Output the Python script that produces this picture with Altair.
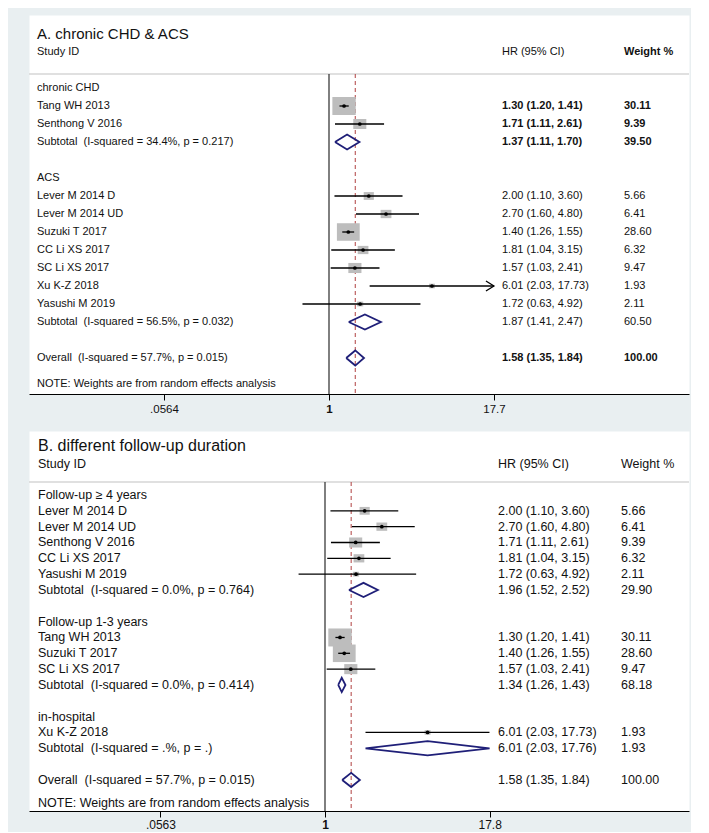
import math
import altair as alt
import pandas as pd

FONT = "Liberation Sans"
TXT = "#111111"
NB = "\u00a0"  # keeps the double space after "Subtotal"/"Overall" in SVG text

# ---------------- Panel A data ----------------
a_title = "A. chronic CHD & ACS"
a_rows = [0, 1, 2, 3, 5, 6, 7, 8, 9, 10, 11, 12, 13, 15]
a_labels = ["chronic CHD", "Tang WH 2013", "Senthong V 2016",
            "Subtotal  (I-squared = 34.4%, p = 0.217)", "ACS",
            "Lever M 2014 D", "Lever M 2014 UD", "Suzuki T 2017",
            "CC Li XS 2017", "SC Li XS 2017", "Xu K-Z 2018", "Yasushi M 2019",
            "Subtotal  (I-squared = 56.5%, p = 0.032)",
            "Overall  (I-squared = 57.7%, p = 0.015)"]
a_kind = ["group", "study", "study", "sub", "group", "study", "study", "study",
          "study", "study", "study", "study", "sub", "overall"]
a_hr = [None, 1.30, 1.71, 1.37, None, 2.00, 2.70, 1.40, 1.81, 1.57, 6.01, 1.72, 1.87, 1.58]
a_lo = [None, 1.20, 1.11, 1.11, None, 1.10, 1.60, 1.26, 1.04, 1.03, 2.03, 0.63, 1.41, 1.35]
a_hi = [None, 1.41, 2.61, 1.70, None, 3.60, 4.80, 1.55, 3.15, 2.41, 17.73, 4.92, 2.47, 1.84]
a_wt = [None, 30.11, 9.39, 39.50, None, 5.66, 6.41, 28.60, 6.32, 9.47, 1.93, 2.11, 60.50, 100.00]
a_bold = [False, True, True, True, False, False, False, False, False, False,
          False, False, False, True]
a_ticks = [0.0564, 1, 17.7]
a_tick_labels = [".0564", "1", "17.7"]

# ---------------- Panel B data ----------------
b_title = "B. different follow-up duration"
b_rows = [0, 1, 2, 3, 4, 5, 6, 8, 9, 10, 11, 12, 14, 15, 16, 18]
b_labels = ["Follow-up \u2265 4 years", "Lever M 2014 D", "Lever M 2014 UD",
            "Senthong V 2016", "CC Li XS 2017", "Yasushi M 2019",
            "Subtotal  (I-squared = 0.0%, p = 0.764)", "Follow-up 1-3 years",
            "Tang WH 2013", "Suzuki T 2017", "SC Li XS 2017",
            "Subtotal  (I-squared = 0.0%, p = 0.414)", "in-hospital",
            "Xu K-Z 2018", "Subtotal  (I-squared = .%, p = .)",
            "Overall  (I-squared = 57.7%, p = 0.015)"]
b_kind = ["group", "study", "study", "study", "study", "study", "sub", "group",
          "study", "study", "study", "sub", "group", "study", "sub", "overall"]
b_hr = [None, 2.00, 2.70, 1.71, 1.81, 1.72, 1.96, None, 1.30, 1.40, 1.57, 1.34, None, 6.01, 6.01, 1.58]
b_lo = [None, 1.10, 1.60, 1.11, 1.04, 0.63, 1.52, None, 1.20, 1.26, 1.03, 1.26, None, 2.03, 2.03, 1.35]
b_hi = [None, 3.60, 4.80, 2.61, 3.15, 4.92, 2.52, None, 1.41, 1.55, 2.41, 1.43, None, 17.73, 17.76, 1.84]
b_wt = [None, 5.66, 6.41, 9.39, 6.32, 2.11, 29.90, None, 30.11, 28.60, 9.47, 68.18, None, 1.93, 1.93, 100.00]
b_bold = [False] * len(b_rows)
b_ticks = [0.0563, 1, 17.8]
b_tick_labels = [".0563", "1", "17.8"]

headers = ["Study ID", "HR (95% CI)", "Weight %"]
note = "NOTE: Weights are from random effects analysis"

BOX_PATH = "M-1.3,-1L1.3,-1L1.3,1L-1.3,1Z"
ARROW_PATH = "M-1.6,-1L0,0L-1.6,1"


def panel(cfg):
    W, H = cfg["W"], cfg["H"]
    df = pd.DataFrame({
        "row": cfg["rows"], "label": [s.replace("  ", " " + NB) for s in cfg["labels"]],
        "kind": cfg["kind"],
        "hr": cfg["hr"], "lo": cfg["lo"], "hi": cfg["hi"], "wt": cfg["wt"],
        "bold": cfg["bold"],
    })
    xmax = max(cfg["ticks"])
    num = df[df["kind"] != "group"].copy()
    num["hr_txt"] = [f"{h:.2f} ({l:.2f}, {u:.2f})" for h, l, u in zip(num.hr, num.lo, num.hi)]
    num["wt_txt"] = [f"{w:.2f}" for w in num.wt]
    studies = num[num["kind"] == "study"].copy()
    studies["hi_c"] = studies["hi"].clip(upper=xmax)
    arrows = studies[studies["hi"] > xmax].copy()
    arrows["x"] = arrows["hi_c"]

    dia = []
    h = cfg["dh"]
    for i, r in num[num["kind"] != "study"].reset_index(drop=True).iterrows():
        pts = [(r.lo, r.row), (r.hr, r.row - h), (r.hi, r.row), (r.hr, r.row + h), (r.lo, r.row)]
        for k, (x, y) in enumerate(pts):
            dia.append({"id": i, "o": k, "x": x, "y": y})
    dia = pd.DataFrame(dia)
    overall = float(num[num["kind"] == "overall"]["hr"].iloc[0])

    xs = alt.Scale(type="log", domain=cfg["xdom"], nice=False)
    ys = alt.Scale(domain=cfg["ydom"], reverse=True, nice=False, zero=False)
    labmap = " : ".join(f"datum.value == {t} ? '{l}'" for t, l in zip(cfg["ticks"], cfg["tick_labels"]))
    ax = alt.Axis(values=cfg["ticks"], labelExpr=labmap + " : ''", title=None, grid=False,
                  domainColor="black", domainWidth=1, tickColor="black", tickSize=6,
                  tickWidth=1, labelColor=TXT, labelFont=FONT,
                  labelFontSize=cfg["tfs"], labelPadding=cfg["lp"], labelFlush=False,
                  labelOverlap=False, minExtent=20, maxExtent=20,
                  labelFontWeight={"condition": {"test": "datum.value == 1", "value": "bold"},
                                   "value": "normal"})

    def X(f):
        return alt.X(f, scale=xs, axis=ax)

    Y = alt.Y("row:Q", scale=ys, axis=None)

    sep = alt.Chart(pd.DataFrame({"a": [0]})).mark_rule(color="#d6d6d6", strokeWidth=1.5).encode(
        x=alt.value(0), x2=alt.value(W), y=alt.value(cfg["sep"]))
    vline = alt.Chart(pd.DataFrame({"x": [1]})).mark_rule(color="#2b2b2b", strokeWidth=1.2).encode(
        x=X("x:Q"), y=alt.value(cfg["sep"]), y2=alt.value(H))
    rline = alt.Chart(pd.DataFrame({"x": [overall]})).mark_rule(
        color="#b04040", strokeWidth=1, strokeDash=[4, 3]).encode(
        x=X("x:Q"), y=alt.value(cfg["sep"]), y2=alt.value(H))
    boxes = alt.Chart(studies).mark_point(shape=BOX_PATH, filled=True, color="#bdbdbd",
                                          opacity=1).encode(
        x=X("hr:Q"), y=Y,
        size=alt.Size("wt:Q", scale=alt.Scale(type="linear", domain=[0, 100], range=[0, 1076]),
                      legend=None))
    ci = alt.Chart(studies).mark_rule(color="black", strokeWidth=1.3).encode(
        x=X("lo:Q"), x2="hi_c:Q", y=Y)
    dots = alt.Chart(studies).mark_point(shape="circle", filled=True, color="black",
                                         opacity=1, size=14).encode(x=X("hr:Q"), y=Y)
    arr = alt.Chart(arrows).mark_point(shape=ARROW_PATH, filled=False, color="black",
                                       opacity=1, size=100, strokeWidth=1.3).encode(
        x=X("x:Q"), y=Y)
    dm = alt.Chart(dia).mark_line(color="#1f1f78", strokeWidth=1.8).encode(
        x=X("x:Q"), y=alt.Y("y:Q", scale=ys, axis=None), detail="id:N", order="o:Q")

    fs = cfg["fs"]
    base_t = dict(align="left", baseline="middle", font=FONT, fontSize=fs, color=TXT)
    labels = alt.Chart(df).mark_text(**base_t).encode(x=alt.value(cfg["cx"][0]), y=Y, text="label:N")
    hr_n = alt.Chart(num[~num["bold"]]).mark_text(**base_t).encode(
        x=alt.value(cfg["cx"][1]), y=Y, text="hr_txt:N")
    wt_n = alt.Chart(num[~num["bold"]]).mark_text(**base_t).encode(
        x=alt.value(cfg["cx"][2]), y=Y, text="wt_txt:N")
    hr_b = alt.Chart(num[num["bold"]]).mark_text(fontWeight="bold", **base_t).encode(
        x=alt.value(cfg["cx"][1]), y=Y, text="hr_txt:N")
    wt_b = alt.Chart(num[num["bold"]]).mark_text(fontWeight="bold", **base_t).encode(
        x=alt.value(cfg["cx"][2]), y=Y, text="wt_txt:N")

    title = alt.Chart(pd.DataFrame({"t": [cfg["title"]]})).mark_text(
        align="left", baseline="middle", font=FONT, fontSize=cfg["hfs"], color=TXT).encode(
        x=alt.value(cfg["cx"][0]), y=alt.value(cfg["ty"]), text="t:N")
    hdr = []
    for j, htxt in enumerate(headers):
        wgt = "bold" if (j == 2 and cfg["hbold"]) else "normal"
        hdr.append(alt.Chart(pd.DataFrame({"t": [htxt]})).mark_text(
            fontWeight=wgt, **base_t).encode(
            x=alt.value(cfg["cx"][j]), y=alt.value(cfg["hy"]), text="t:N"))
    nt = alt.Chart(pd.DataFrame({"t": [note]})).mark_text(**base_t).encode(
        x=alt.value(cfg["cx"][0]), y=alt.value(cfg["ny"]), text="t:N")

    return alt.layer(sep, vline, rline, boxes, ci, dots, arr, dm, labels, hr_n, wt_n, hr_b,
                     wt_b, title, *hdr, nt).properties(width=W, height=H)


def xdom(px_one, ppl, W=660):
    return [math.exp(-px_one / ppl), math.exp((W - px_one) / ppl)]


cfgA = dict(W=660, H=379, rows=a_rows, labels=a_labels, kind=a_kind, hr=a_hr, lo=a_lo,
            hi=a_hi, wt=a_wt, bold=a_bold, ticks=a_ticks, tick_labels=a_tick_labels,
            xdom=xdom(300, 57.4), ydom=[-73 / 18, 306 / 18], dh=0.42, sep=59, ty=19, hy=37,
            ny=369, cx=[8, 473, 595], fs=11, hfs=15, tfs=11.5, lp=3, title=a_title, hbold=True)
cfgB = dict(W=660, H=380, rows=b_rows, labels=b_labels, kind=b_kind, hr=b_hr, lo=b_lo,
            hi=b_hi, wt=b_wt, bold=b_bold, ticks=b_ticks, tick_labels=b_tick_labels,
            xdom=xdom(296, 57.2), ydom=[-64 / 15.83, 316 / 15.83], dh=0.45, sep=51, ty=15, hy=33,
            ny=372, cx=[9, 469, 592], fs=12.5, hfs=16, tfs=12, lp=2, title=b_title, hbold=False)

chart = alt.vconcat(panel(cfgA), panel(cfgB), spacing=15).properties(
    padding={"left": 19, "top": 6, "right": 0, "bottom": 0},
    background="#e9eff1",
).configure_view(fill="white", stroke="transparent")

chart.save("out.html", embed_options={"renderer": "svg", "actions": False})
